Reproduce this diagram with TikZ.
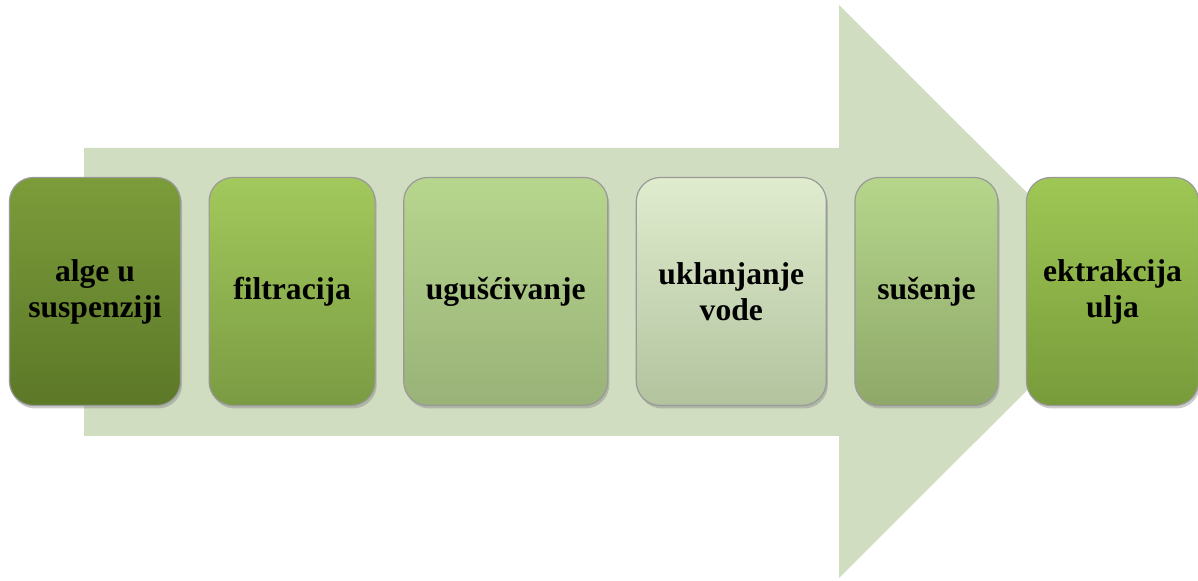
\documentclass[tikz,border=0pt]{standalone}
\usepackage{fontspec}
\setmainfont{Liberation Serif}
\usetikzlibrary{positioning,shadows}

\definecolor{arrowfill}{HTML}{D1DDC0}
\definecolor{algaetop}{HTML}{7C9C3A}
\definecolor{algaebot}{HTML}{5C7828}
\definecolor{filttop}{HTML}{A2C95C}
\definecolor{filtbot}{HTML}{7B9B43}
\definecolor{thicktop}{HTML}{B7D68D}
\definecolor{thickbot}{HTML}{99B278}
\definecolor{watertop}{HTML}{E0ECCE}
\definecolor{waterbot}{HTML}{B2C39E}
\definecolor{drytop}{HTML}{B5D68B}
\definecolor{drybot}{HTML}{8FA869}
\definecolor{oiltop}{HTML}{9EC755}
\definecolor{oilbot}{HTML}{789B3A}

\tikzstyle{block} = [rectangle, draw=black!40, line width=0.6pt,
    rounded corners=12pt, minimum height=114pt, inner sep=2pt, align=center,
    font=\bfseries\fontsize{15.8}{18}\selectfont,
    drop shadow={opacity=0.4, shadow xshift=0.8pt, shadow yshift=-1.5pt}]

\begin{document}
\begin{tikzpicture}[x=0.5pt, y=-0.5pt, node distance = 13.7pt]
    \useasboundingbox (0,0) rectangle (1198,581);
    % big background arrow
    \fill [arrowfill] (84,148) -- (839,148) -- (839,5) -- (1126,291.5)
        -- (839,578) -- (839,436) -- (84,436) -- cycle;

    \node [block, top color=algaetop, bottom color=algaebot, minimum width=85.5pt] (Algae) at (95,291.5) {alge u\\suspenziji};
    \node [block, top color=filttop, bottom color=filtbot, minimum width=83pt, right=of Algae] (Filtration) {filtracija};
    \node [block, top color=thicktop, bottom color=thickbot, minimum width=102pt, right=of Filtration] (Thickening) {ugušćivanje};
    \node [block, top color=watertop, bottom color=waterbot, minimum width=95pt, right=of Thickening] (Dewater) {uklanjanje\\vode};
    \node [block, top color=drytop, bottom color=drybot, minimum width=71.5pt, right=of Dewater] (Drying) {sušenje};
    \node [block, top color=oiltop, bottom color=oilbot, minimum width=86pt, right=of Drying] (Extraction) {ektrakcija\\ulja};
\end{tikzpicture}
\end{document}
